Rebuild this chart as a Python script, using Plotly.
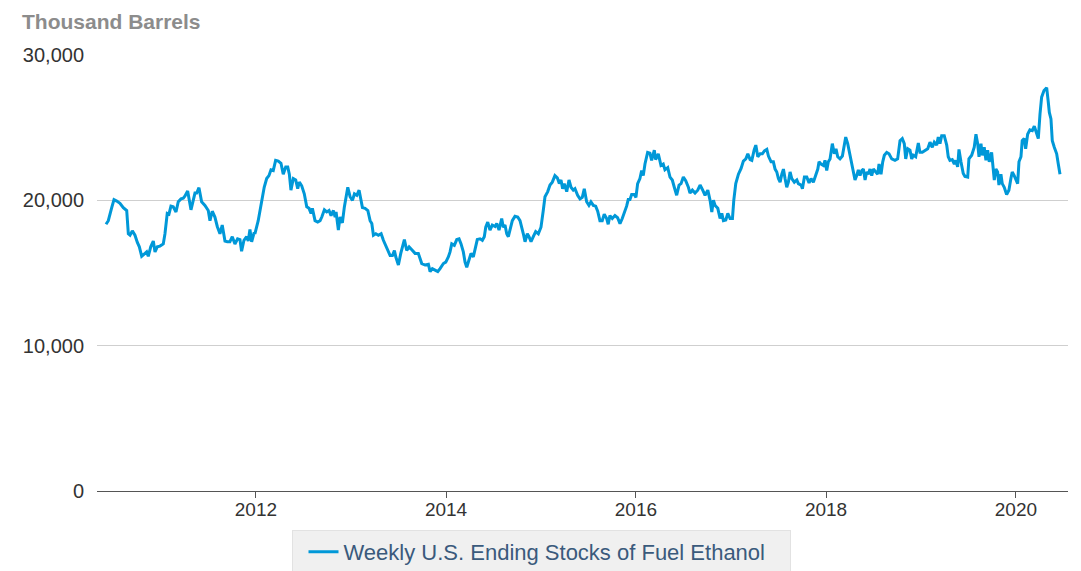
import datetime as dt
import plotly.graph_objects as go

# Decimal-year positions
t_years = [
    2010.421, 2010.445, 2010.481, 2010.505, 2010.534, 2010.568, 2010.603, 2010.639, 2010.656, 2010.674,
    2010.698, 2010.726, 2010.751, 2010.772, 2010.797, 2010.824, 2010.849, 2010.866, 2010.892, 2010.919,
    2010.937, 2010.961, 2010.989, 2011.024, 2011.042, 2011.066, 2011.084, 2011.105, 2011.129, 2011.158,
    2011.182, 2011.211, 2011.235, 2011.253, 2011.281, 2011.316, 2011.340, 2011.358, 2011.376, 2011.400,
    2011.428, 2011.463, 2011.498, 2011.516, 2011.540, 2011.568, 2011.593, 2011.621, 2011.645, 2011.674,
    2011.698, 2011.726, 2011.751, 2011.779, 2011.807, 2011.832, 2011.849, 2011.874, 2011.902, 2011.919,
    2011.937, 2011.955, 2011.982, 2011.989, 2012.024, 2012.060, 2012.087, 2012.113, 2012.137, 2012.158,
    2012.182, 2012.207, 2012.235, 2012.263, 2012.287, 2012.313, 2012.334, 2012.351, 2012.368, 2012.393,
    2012.418, 2012.439, 2012.456, 2012.481, 2012.508, 2012.534, 2012.558, 2012.579, 2012.593, 2012.621,
    2012.649, 2012.674, 2012.692, 2012.719, 2012.744, 2012.768, 2012.789, 2012.814, 2012.832, 2012.842,
    2012.866, 2012.884, 2012.908, 2012.929, 2012.944, 2012.965, 2012.989, 2013.014, 2013.035, 2013.060,
    2013.084, 2013.105, 2013.119, 2013.147, 2013.176, 2013.200, 2013.218, 2013.235, 2013.260, 2013.287,
    2013.316, 2013.340, 2013.358, 2013.386, 2013.411, 2013.435, 2013.456, 2013.471, 2013.498, 2013.523,
    2013.544, 2013.561, 2013.586, 2013.611, 2013.639, 2013.666, 2013.674, 2013.708, 2013.744, 2013.779,
    2013.814, 2013.832, 2013.856, 2013.884, 2013.913, 2013.937, 2013.972, 2013.997, 2014.024, 2014.042,
    2014.060, 2014.087, 2014.113, 2014.137, 2014.158, 2014.182, 2014.200, 2014.218, 2014.242, 2014.263,
    2014.287, 2014.305, 2014.329, 2014.358, 2014.382, 2014.403, 2014.418, 2014.439, 2014.463, 2014.487,
    2014.516, 2014.534, 2014.558, 2014.586, 2014.603, 2014.621, 2014.639, 2014.656, 2014.674, 2014.698,
    2014.726, 2014.755, 2014.779, 2014.797, 2014.814, 2014.832, 2014.856, 2014.874, 2014.895, 2014.919,
    2014.944, 2014.972, 2015.000, 2015.024, 2015.042, 2015.071, 2015.095, 2015.119, 2015.147, 2015.172,
    2015.193, 2015.211, 2015.228, 2015.245, 2015.271, 2015.295, 2015.316, 2015.340, 2015.358, 2015.386,
    2015.411, 2015.435, 2015.456, 2015.481, 2015.505, 2015.526, 2015.551, 2015.576, 2015.597, 2015.621,
    2015.645, 2015.666, 2015.692, 2015.708, 2015.726, 2015.751, 2015.779, 2015.807, 2015.832, 2015.856,
    2015.877, 2015.902, 2015.919, 2015.937, 2015.955, 2015.982, 2016.000, 2016.018, 2016.042, 2016.060,
    2016.077, 2016.095, 2016.123, 2016.147, 2016.165, 2016.193, 2016.207, 2016.235, 2016.263, 2016.287,
    2016.305, 2016.334, 2016.358, 2016.382, 2016.403, 2016.428, 2016.453, 2016.474, 2016.498, 2016.523,
    2016.551, 2016.568, 2016.593, 2016.621, 2016.649, 2016.674, 2016.698, 2016.726, 2016.755, 2016.779,
    2016.797, 2016.814, 2016.832, 2016.860, 2016.884, 2016.902, 2016.919, 2016.944, 2016.965, 2016.989,
    2017.014, 2017.028, 2017.049, 2017.077, 2017.105, 2017.129, 2017.155, 2017.176, 2017.200, 2017.218,
    2017.242, 2017.260, 2017.281, 2017.305, 2017.329, 2017.351, 2017.376, 2017.393, 2017.421, 2017.445,
    2017.463, 2017.481, 2017.498, 2017.516, 2017.534, 2017.551, 2017.568, 2017.586, 2017.603, 2017.621,
    2017.639, 2017.666, 2017.692, 2017.708, 2017.737, 2017.751, 2017.772, 2017.797, 2017.821, 2017.842,
    2017.866, 2017.892, 2017.913, 2017.926, 2017.947, 2017.972, 2017.989, 2018.007, 2018.024, 2018.042,
    2018.066, 2018.087, 2018.105, 2018.123, 2018.147, 2018.172, 2018.189, 2018.207, 2018.228, 2018.253,
    2018.270, 2018.287, 2018.305, 2018.323, 2018.340, 2018.358, 2018.376, 2018.393, 2018.411, 2018.428,
    2018.445, 2018.463, 2018.481, 2018.498, 2018.523, 2018.544, 2018.558, 2018.579, 2018.597, 2018.614,
    2018.639, 2018.663, 2018.692, 2018.726, 2018.754, 2018.779, 2018.803, 2018.824, 2018.839, 2018.860,
    2018.884, 2018.902, 2018.919, 2018.944, 2018.972, 2018.989, 2019.014, 2019.042, 2019.071, 2019.095,
    2019.119, 2019.140, 2019.165, 2019.182, 2019.200, 2019.218, 2019.245, 2019.271, 2019.287, 2019.305,
    2019.329, 2019.351, 2019.365, 2019.386, 2019.400, 2019.421, 2019.445, 2019.463, 2019.492, 2019.505,
    2019.534, 2019.561, 2019.579, 2019.597, 2019.611, 2019.632, 2019.645, 2019.666, 2019.684, 2019.702,
    2019.719, 2019.744, 2019.761, 2019.772, 2019.789, 2019.807, 2019.821, 2019.842, 2019.856, 2019.877,
    2019.902, 2019.926, 2019.947, 2019.961, 2019.982, 2020.000, 2020.018, 2020.032, 2020.053, 2020.066,
    2020.087, 2020.102, 2020.123, 2020.147, 2020.172, 2020.193, 2020.211, 2020.235, 2020.253, 2020.270,
    2020.295, 2020.323, 2020.340, 2020.351, 2020.368, 2020.382, 2020.403, 2020.428, 2020.445, 2020.463,
]

# Weekly U.S. ending stocks of fuel ethanol, thousand barrels
stocks = [
    18350, 18600, 19500, 20050, 19950, 19800, 19500, 19300, 17700, 17600,
    17900, 17600, 17100, 16800, 16150, 16300, 16450, 16150, 16800, 17200,
    16450, 16800, 16850, 17000, 17700, 19100, 19050, 19600, 19550, 19200,
    19900, 20100, 20150, 20300, 20650, 19350, 20000, 20500, 20500, 20870,
    19900, 19650, 19300, 18600, 19250, 18850, 18200, 17700, 18300, 17200,
    17150, 17150, 17500, 17000, 17350, 17300, 16500, 17250, 17500, 17200,
    18000, 17150, 17800, 17700, 18600, 20000, 20900, 21500, 21700, 22100,
    22050, 22750, 22700, 22550, 21800, 22300, 22300, 21800, 20700, 21500,
    21400, 20800, 21250, 21000, 20450, 19550, 19450, 19100, 19450, 18600,
    18500, 18600, 18850, 19350, 19200, 19300, 18950, 19300, 18850, 19200,
    17950, 18850, 18450, 19550, 20250, 20900, 20250, 20000, 20450, 20350,
    20700, 20000, 19500, 19450, 19300, 18600, 18400, 17600, 17700, 17600,
    17700, 17250, 17000, 16550, 16200, 16200, 16550, 16100, 15550, 16350,
    16800, 17300, 16550, 16800, 16600, 16450, 16350, 16350, 15650, 15550,
    15600, 15100, 15300, 15200, 15100, 15300, 15650, 15750, 16100, 16450,
    17000, 16900, 17300, 17350, 17000, 16450, 15750, 15400, 15900, 16350,
    16100, 16650, 17300, 17350, 17250, 17500, 18150, 18500, 17950, 18300,
    18200, 18400, 17950, 18750, 18150, 18300, 17700, 17500, 17950, 18600,
    18900, 18850, 18600, 18200, 17700, 17150, 17700, 17500, 17150, 17500,
    17850, 17700, 18150, 19300, 20250, 20600, 21050, 21250, 21700, 21550,
    21150, 21400, 20800, 21150, 20600, 21400, 20900, 20700, 20800, 20350,
    20100, 20200, 20800, 19900, 19650, 19900, 19650, 19600, 19250, 18600,
    18600, 19050, 18750, 18350, 18950, 18750, 18950, 18800, 18400, 18750,
    19100, 19600, 20050, 20050, 20400, 20400, 20200, 21150, 21500, 22050,
    21700, 22500, 23300, 23250, 22750, 23450, 22800, 23200, 22400, 22500,
    22100, 22250, 21600, 21400, 20900, 20350, 21050, 21150, 21600, 21350,
    20900, 20500, 20700, 20500, 20700, 21050, 20750, 20350, 20700, 20000,
    19200, 20000, 19650, 19450, 18750, 19100, 18600, 18650, 19100, 18750,
    18750, 20000, 21150, 21800, 22200, 22700, 22850, 23200, 22800, 22750,
    23450, 23800, 23000, 23200, 23200, 23400, 23500, 23050, 22650, 22650,
    22150, 21950, 21500, 21250, 21800, 22150, 21500, 20900, 21250, 21950,
    21500, 21250, 21400, 21150, 21050, 20800, 21600, 21600, 21200, 21500,
    21250, 21700, 22150, 22650, 22500, 22400, 22750, 22050, 22650, 22850,
    23900, 23200, 23550, 23000, 22850, 23050, 23650, 24350, 23900, 23100,
    22400, 21950, 21400, 21700, 22100, 21700, 22050, 22150, 21400, 21950,
    21800, 22150, 21700, 22150, 21950, 21800, 22500, 21800, 22650, 23100,
    23300, 23200, 22850, 22750, 22850, 24100, 24250, 23900, 22850, 23550,
    23450, 22850, 23100, 23000, 23950, 23300, 23300, 23450, 23550, 24000,
    23650, 24000, 23800, 24350, 23900, 24450, 24450, 23800, 23000, 22750,
    22800, 22500, 22750, 22300, 23500, 22650, 21850, 21650, 21600, 22850,
    23100, 23650, 24550, 23900, 23000, 23900, 23100, 23650, 22750, 23450,
    22650, 23300, 22050, 21400, 22150, 21950, 21050, 21800, 21150, 20900,
    20400, 20700, 21500, 21950, 21700, 21400, 21150, 22650, 23000, 24100,
    24250, 23550, 24550, 24850, 24800, 25100, 24700, 24250, 25950, 27100,
    27550, 27750, 26750, 26050, 25600, 24100, 23650, 23200, 22500, 21800,
]

series_name = "Weekly U.S. Ending Stocks of Fuel Ethanol"
y_title = "Thousand Barrels"
y_ticks = [0, 10000, 20000, 30000]
y_tick_labels = ["0", "10,000", "20,000", "30,000"]
x_tick_years = [2012, 2014, 2016, 2018, 2020]


def frac_to_date(t):
    year = int(t)
    start = dt.datetime(year, 1, 1)
    days_in_year = (dt.datetime(year + 1, 1, 1) - start).days
    return start + dt.timedelta(days=(t - year) * days_in_year)


dates = [frac_to_date(t) for t in t_years]

FONT = "Liberation Sans, Arial, Helvetica, sans-serif"

fig = go.Figure()
fig.add_trace(go.Scatter(
    x=dates, y=stocks, mode="lines", name=series_name,
    line=dict(color="#0098d8", width=3),
    showlegend=True,
))

fig.update_layout(
    width=1081, height=571,
    margin=dict(l=97, r=13, t=55, b=80, autoexpand=False),
    paper_bgcolor="white", plot_bgcolor="white",
    font=dict(family=FONT, size=16, color="#333333"),
    showlegend=True,
    legend=dict(
        orientation="h",
        xref="container", x=541 / 1081, xanchor="center",
        yref="container", y=1 - 530 / 571, yanchor="top",
        bgcolor="#f0f0f0", bordercolor="#e2e2e2", borderwidth=1,
        font=dict(family=FONT, size=22, color="#3a5a7c"),
        entrywidth=441, itemwidth=30, indentation=11,
    ),
    xaxis=dict(
        type="date",
        range=[frac_to_date(2010.326), frac_to_date(2020.547)],
        tickvals=[dt.datetime(y, 1, 1) for y in x_tick_years],
        ticktext=[str(y) for y in x_tick_years],
        ticks="outside", ticklen=6, tickcolor="#555555", tickwidth=1,
        showline=True, linecolor="#555555", linewidth=1,
        showgrid=False, zeroline=False,
        ticklabelstandoff=-5,
        tickfont=dict(family=FONT, size=19, color="#333333"),
    ),
    yaxis=dict(
        range=[0, 30000],
        tickvals=y_ticks, ticktext=y_tick_labels,
        showgrid=True, gridcolor="#cfcfcf", gridwidth=1,
        zeroline=False, showline=False, ticks="",
        ticklabelstandoff=12,
        tickfont=dict(family=FONT, size=20, color="#333333"),
    ),
    annotations=[dict(
        text=f"<b>{y_title}</b>", xref="paper", yref="paper",
        x=-0.0793, y=1.0757, xanchor="left", yanchor="middle",
        showarrow=False, font=dict(family=FONT, size=21, color="#8c8c8c"),
    )],
)

fig.write_html(
    "out.html",
    config={"displayModeBar": False},
    post_script="document.body.style.margin='0';document.body.style.overflow='hidden';",
)
